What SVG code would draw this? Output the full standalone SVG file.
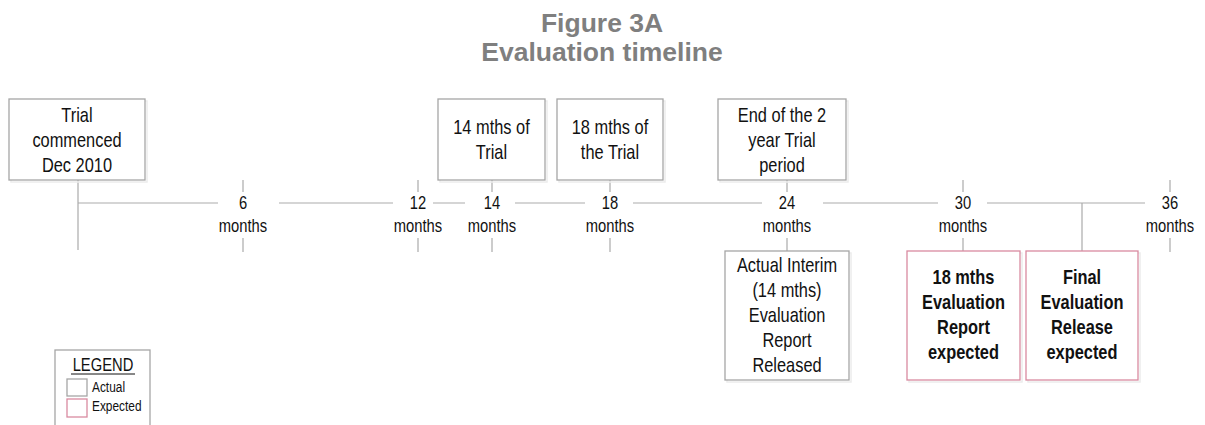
<svg xmlns="http://www.w3.org/2000/svg" width="1205" height="425" viewBox="0 0 1205 425">
<style>
.bg{fill:#ffffff}
.title{font-family:"Liberation Sans",Arial,sans-serif;font-weight:bold;font-size:26.5px;fill:#7f7f7f;text-anchor:middle}
.t{font-family:"Liberation Sans",Arial,sans-serif;font-size:20px;fill:#111;text-anchor:middle}
.tb{font-family:"Liberation Sans",Arial,sans-serif;font-size:20px;font-weight:bold;fill:#111;text-anchor:middle}
.ax{font-family:"Liberation Sans",Arial,sans-serif;font-size:18px;fill:#111;text-anchor:middle}
.lg{font-family:"Liberation Sans",Arial,sans-serif;font-size:14.5px;fill:#111}
.lgh{font-family:"Liberation Sans",Arial,sans-serif;font-size:18px;fill:#111;text-anchor:middle}
.box{fill:#ffffff;stroke:#a6a6a6;stroke-width:1.3}
.rbox{fill:#ffffff;stroke:#d98aa0;stroke-width:1.3}
.sh{fill:none;stroke:#ececec;stroke-width:1.5}
.ln{stroke:#ababab;stroke-width:1.2;fill:none}
</style>
<rect class="bg" x="0" y="0" width="1205" height="425"/>
<g id="title">
<text class="title" x="602" y="32">Figure 3A</text>
<text class="title" x="602" y="61">Evaluation timeline</text>
</g>
<g id="connectors">
<path class="ln" d="M78 203H218M279 203H393M433 203H465M515 203H585M633 203H762M823 203H938M987 203H1145"/>
<path class="ln" d="M78 180V250M243 180V192M243 238V252M418 180V192M418 238V252M492 180V192M492 238V252M610 180V192M610 238V252M787 180V192M787 238V251M963 180V192M963 238V251M1170 180V192M1170 238V252M1082 203V251"/>
</g>
<g id="axis-labels" transform="scale(0.82 1)">
<text class="ax" x="296.34" y="209">6</text><text class="ax" x="296.34" y="232">months</text>
<text class="ax" x="509.76" y="209">12</text><text class="ax" x="509.76" y="232">months</text>
<text class="ax" x="600" y="209">14</text><text class="ax" x="600" y="232">months</text>
<text class="ax" x="743.90" y="209">18</text><text class="ax" x="743.90" y="232">months</text>
<text class="ax" x="959.76" y="209">24</text><text class="ax" x="959.76" y="232">months</text>
<text class="ax" x="1174.39" y="209">30</text><text class="ax" x="1174.39" y="232">months</text>
<text class="ax" x="1426.83" y="209">36</text><text class="ax" x="1426.83" y="232">months</text>
</g>
<g id="n-trial">
<rect class="sh" x="11" y="101" width="136" height="81"/>
<rect class="box" x="9" y="99" width="136" height="81"/>
<g transform="scale(0.82 1)">
<text class="t" x="93.90" y="122">Trial</text>
<text class="t" x="93.90" y="147">commenced</text>
<text class="t" x="93.90" y="172">Dec 2010</text>
</g>
</g>
<g id="n-14">
<rect class="sh" x="440" y="101" width="107" height="81"/>
<rect class="box" x="438" y="99" width="107" height="81"/>
<g transform="scale(0.82 1)">
<text class="t" x="599.39" y="134">14 mths of</text>
<text class="t" x="599.39" y="159">Trial</text>
</g>
</g>
<g id="n-18">
<rect class="sh" x="559" y="101" width="106" height="81"/>
<rect class="box" x="557" y="99" width="106" height="81"/>
<g transform="scale(0.82 1)">
<text class="t" x="743.90" y="134">18 mths of</text>
<text class="t" x="743.90" y="159">the Trial</text>
</g>
</g>
<g id="n-24">
<rect class="sh" x="720" y="101" width="128" height="81"/>
<rect class="box" x="718" y="99" width="128" height="81"/>
<g transform="scale(0.82 1)">
<text class="t" x="953.66" y="122">End of the 2</text>
<text class="t" x="953.66" y="147">year Trial</text>
<text class="t" x="953.66" y="172">period</text>
</g>
</g>
<g id="n-interim">
<rect class="sh" x="727" y="253" width="124" height="129"/>
<rect class="box" x="725" y="251" width="124" height="129"/>
<g transform="scale(0.82 1)">
<text class="t" x="959.76" y="272">Actual Interim</text>
<text class="t" x="959.76" y="297">(14 mths)</text>
<text class="t" x="959.76" y="322">Evaluation</text>
<text class="t" x="959.76" y="347">Report</text>
<text class="t" x="959.76" y="372">Released</text>
</g>
</g>
<g id="n-18report">
<rect class="sh" x="909" y="253" width="113" height="129"/>
<rect class="rbox" x="907" y="251" width="113" height="129"/>
<g transform="scale(0.82 1)">
<text class="tb" x="1174.99" y="284">18 mths</text>
<text class="tb" x="1174.99" y="309">Evaluation</text>
<text class="tb" x="1174.99" y="334">Report</text>
<text class="tb" x="1174.99" y="359">expected</text>
</g>
</g>
<g id="n-final">
<rect class="sh" x="1028" y="253" width="112" height="129"/>
<rect class="rbox" x="1026" y="251" width="112" height="129"/>
<g transform="scale(0.82 1)">
<text class="tb" x="1319.51" y="284">Final</text>
<text class="tb" x="1319.51" y="309">Evaluation</text>
<text class="tb" x="1319.51" y="334">Release</text>
<text class="tb" x="1319.51" y="359">expected</text>
</g>
</g>
<g id="legend">
<rect class="box" x="55" y="350" width="95" height="100"/>
<g transform="scale(0.82 1)">
<text class="lgh" x="125.61" y="371">LEGEND</text>
<text class="lg" x="112.20" y="392">Actual</text>
<text class="lg" x="112.20" y="411">Expected</text>
</g>
<line x1="71" y1="374" x2="135" y2="374" stroke="#111" stroke-width="1"/>
<rect class="box" x="67" y="379" width="20" height="17"/>
<rect class="rbox" x="67" y="399" width="20" height="18"/>
</g>
</svg>
